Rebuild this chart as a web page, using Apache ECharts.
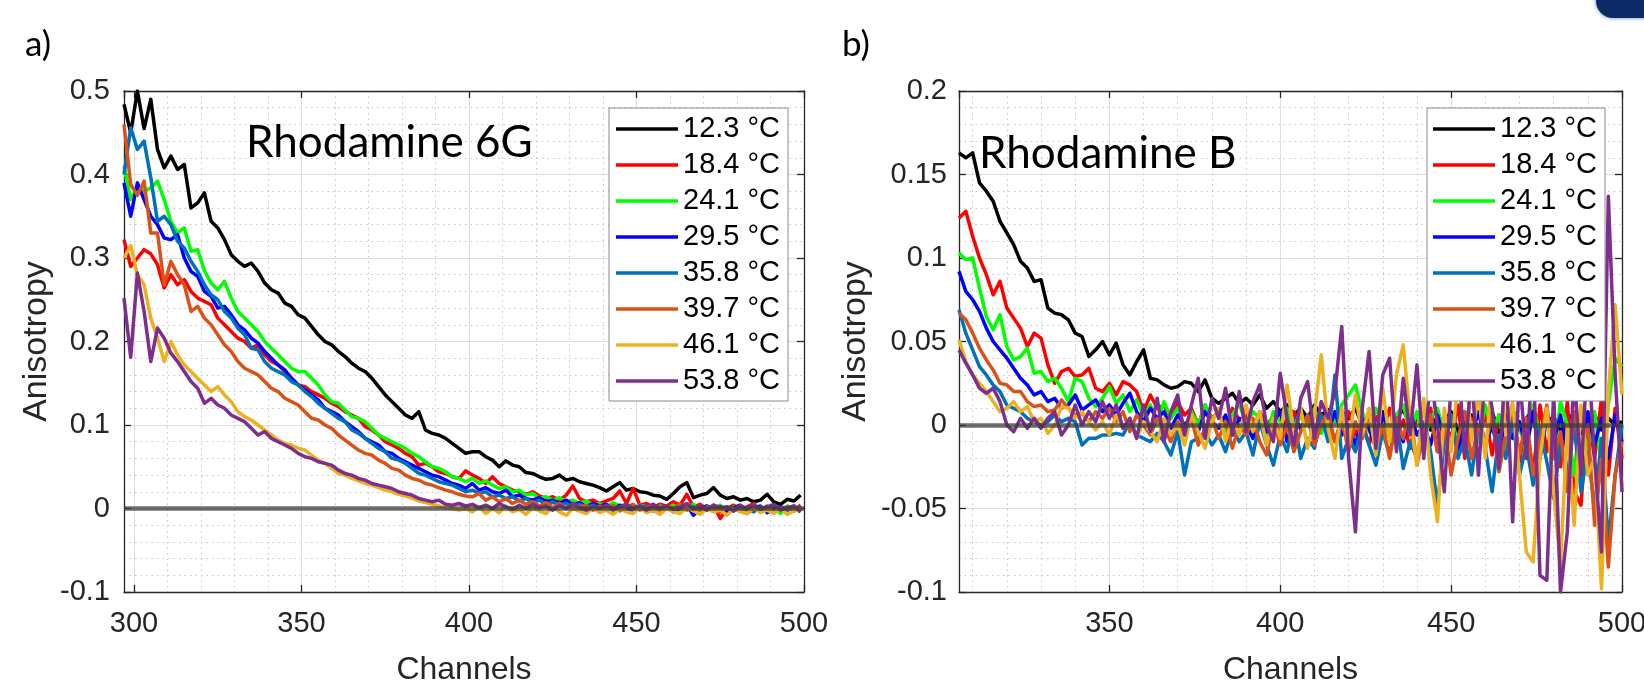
<!DOCTYPE html>
<html>
<head>
<meta charset="utf-8">
<script src="https://cdn.jsdelivr.net/npm/echarts@6/dist/echarts.min.js"></script>
<style>
html,body{margin:0;padding:0;background:#fff;}
#chart{width:1644px;height:690px;}
</style>
</head>
<body>
<div id="chart"></div>
<script>
// ---------- DATA ----------
const temps = ['12.3 \u00b0C','18.4 \u00b0C','24.1 \u00b0C','29.5 \u00b0C','35.8 \u00b0C','39.7 \u00b0C','46.1 \u00b0C','53.8 \u00b0C'];

// Panel a) Rhodamine 6G – channels
const chA = [297,299,301,303,305,307,309,311,313,315,317,319,321,323,325,327,329,331,333,335,337,339,341,343,345,347,349,351,353,355,357,359,361,363,365,367,369,371,373,375,377,379,381,383,385,387,389,391,393,395,397,399,401,403,405,407,409,411,413,415,417,419,421,423,425,427,429,431,433,435,437,439,441,443,445,447,449,451,453,455,457,459,461,463,465,467,469,471,473,475,477,479,481,483,485,487,489,491,493,495,497,499];

const a_12_3 = [0.484,0.45,0.50,0.455,0.49,0.43,0.408,0.422,0.406,0.412,
0.36,0.366,0.378,0.344,0.336,0.322,0.304,0.296,0.29,0.294,
0.284,0.27,0.262,0.258,0.246,0.242,0.232,0.228,0.218,0.208,
0.2,0.196,0.188,0.182,0.174,0.168,0.164,0.156,0.146,0.136,
0.128,0.12,0.112,0.108,0.116,0.094,0.09,0.088,0.084,0.078,
0.072,0.066,0.068,0.068,0.062,0.058,0.05,0.057,0.052,0.05,
0.043,0.042,0.038,0.035,0.036,0.04,0.034,0.036,0.032,0.03,
0.028,0.025,0.021,0.026,0.031,0.022,0.024,0.02,0.019,0.016,
0.015,0.011,0.018,0.026,0.031,0.013,0.016,0.018,0.025,0.016,
0.012,0.014,0.01,0.012,0.008,0.01,0.017,0.008,0.005,0.011,
0.009,0.016];
const a_18_4 = [0.322,0.29,0.30,0.31,0.305,0.292,0.264,0.28,0.268,0.274,
0.26,0.252,0.248,0.244,0.228,0.22,0.212,0.204,0.2,0.192,
0.196,0.184,0.176,0.172,0.164,0.156,0.148,0.146,0.14,0.136,
0.132,0.126,0.122,0.116,0.112,0.108,0.098,0.094,0.088,0.08,
0.076,0.072,0.066,0.062,0.052,0.054,0.05,0.044,0.042,0.038,
0.036,0.045,0.04,0.036,0.03,0.038,0.03,0.026,0.022,0.02,
0.017,0.02,0.015,0.012,0.014,0.01,0.016,0.027,0.012,0.008,
0.01,0.006,0.009,0.012,0.021,0.006,0.024,0.004,0.006,0.002,
0.005,0.003,0.008,0.004,0.017,0.002,0.005,-0.002,0.004,-0.012,
0.0,0.004,-0.003,0.002,0.006,-0.002,0.003,-0.004,0.002,0.0,
-0.003,0.004];
const a_24_1 = [0.41,0.37,0.385,0.38,0.384,0.392,0.37,0.344,0.33,0.336,
0.308,0.31,0.285,0.27,0.262,0.272,0.252,0.236,0.228,0.22,
0.212,0.2,0.192,0.184,0.176,0.168,0.164,0.164,0.156,0.148,
0.136,0.128,0.126,0.118,0.11,0.108,0.104,0.096,0.088,0.084,
0.08,0.076,0.072,0.066,0.062,0.056,0.05,0.048,0.044,0.038,
0.036,0.032,0.036,0.03,0.033,0.028,0.024,0.026,0.02,0.022,
0.016,0.018,0.012,0.014,0.01,0.013,0.008,0.01,0.006,0.009,
0.004,0.006,0.002,0.007,0.003,0.005,0.0,0.004,0.002,-0.002,
0.003,0.0,0.004,-0.003,0.002,0.005,-0.002,0.003,0.0,0.004,
-0.004,0.002,0.001,-0.002,0.004,0.0,-0.003,0.002,-0.006,0.003,
0.0,-0.004];
const a_29_5 = [0.39,0.35,0.39,0.37,0.35,0.34,0.324,0.322,0.328,0.3,
0.284,0.278,0.26,0.254,0.24,0.242,0.232,0.22,0.214,0.204,
0.198,0.188,0.18,0.172,0.166,0.156,0.148,0.142,0.136,0.13,
0.12,0.116,0.112,0.104,0.098,0.092,0.084,0.08,0.076,0.068,
0.066,0.06,0.056,0.052,0.048,0.044,0.04,0.038,0.034,0.03,
0.028,0.024,0.03,0.022,0.025,0.02,0.018,0.022,0.014,0.016,
0.012,0.01,0.013,0.008,0.01,0.006,0.01,0.004,0.007,0.002,
0.006,0.003,0.005,-0.002,0.004,0.001,-0.004,0.003,0.0,0.005,
-0.002,0.002,-0.004,0.001,0.004,-0.008,0.0,0.003,-0.002,0.002,
-0.004,0.001,0.004,-0.003,0.0,0.003,-0.005,0.0,0.002,-0.002,
0.003,-0.003];
const a_35_8 = [0.40,0.456,0.43,0.44,0.396,0.344,0.35,0.34,0.32,0.312,
0.296,0.284,0.268,0.256,0.25,0.236,0.228,0.216,0.208,0.192,
0.19,0.176,0.168,0.164,0.16,0.152,0.148,0.14,0.134,0.126,
0.12,0.114,0.108,0.104,0.094,0.09,0.084,0.078,0.072,0.068,
0.06,0.058,0.054,0.048,0.042,0.04,0.036,0.032,0.03,0.028,
0.024,0.02,0.022,0.018,0.02,0.014,0.016,0.012,0.014,0.009,
0.012,0.007,0.01,0.005,0.008,0.004,0.006,0.002,0.005,0.001,
0.004,0.0,0.003,-0.001,0.002,0.004,-0.002,0.001,0.003,-0.003,
0.0,0.002,-0.002,0.003,-0.001,0.002,-0.004,0.0,0.003,-0.002,
0.001,-0.003,0.002,0.0,-0.004,0.002,0.0,-0.003,0.001,-0.002,
0.002,0.0];
const a_39_7 = [0.46,0.388,0.375,0.392,0.33,0.33,0.268,0.296,0.28,0.268,
0.236,0.242,0.228,0.22,0.208,0.196,0.188,0.176,0.168,0.164,
0.16,0.152,0.144,0.14,0.132,0.128,0.124,0.116,0.108,0.106,
0.1,0.096,0.088,0.082,0.076,0.07,0.066,0.064,0.058,0.054,
0.048,0.046,0.04,0.036,0.034,0.03,0.028,0.025,0.022,0.02,
0.017,0.015,0.014,0.018,0.01,0.014,0.008,0.012,0.006,0.01,
0.005,0.008,0.003,0.007,0.002,0.006,0.0,0.005,0.002,0.004,
-0.002,0.003,0.0,0.004,-0.003,0.002,0.005,-0.002,0.001,0.004,
-0.003,0.002,0.0,0.005,-0.002,0.001,-0.004,0.002,0.0,-0.005,
0.002,-0.002,0.003,-0.006,0.0,-0.003,0.002,-0.004,0.0,0.002,
-0.003,0.001];
const a_46_1 = [0.30,0.315,0.28,0.268,0.228,0.204,0.176,0.2,0.184,0.172,
0.164,0.156,0.148,0.14,0.146,0.136,0.128,0.116,0.11,0.106,
0.1,0.094,0.088,0.082,0.078,0.076,0.072,0.07,0.064,0.058,
0.054,0.048,0.042,0.04,0.036,0.033,0.03,0.028,0.025,0.022,
0.02,0.017,0.015,0.012,0.009,0.007,0.005,0.003,0.001,0.0,
-0.002,0.0,-0.004,0.002,-0.006,0.0,-0.005,0.003,-0.004,-0.001,
-0.007,0.001,-0.003,-0.006,0.002,-0.004,-0.008,0.0,-0.003,-0.006,
0.001,-0.005,-0.002,-0.007,0.0,-0.004,-0.006,0.002,-0.005,-0.002,
-0.007,0.0,-0.004,-0.006,0.001,-0.003,-0.007,0.0,-0.004,-0.002,
-0.008,0.0,-0.004,-0.006,0.001,-0.005,-0.002,-0.006,0.0,-0.007,
-0.003,-0.001];
const a_53_8 = [0.252,0.181,0.282,0.236,0.176,0.216,0.204,0.186,0.176,0.164,
0.152,0.144,0.126,0.132,0.124,0.12,0.112,0.108,0.104,0.096,
0.088,0.092,0.084,0.08,0.076,0.072,0.066,0.062,0.06,0.056,
0.054,0.052,0.046,0.042,0.04,0.036,0.034,0.03,0.028,0.026,
0.024,0.02,0.018,0.016,0.012,0.01,0.008,0.01,0.005,0.004,
0.006,0.003,0.005,0.001,0.004,0.0,0.006,0.002,-0.001,0.004,
0.0,0.005,0.001,0.003,-0.002,0.004,0.0,0.006,0.001,-0.002,
0.003,0.0,0.004,-0.001,0.002,0.005,0.0,0.003,-0.002,0.004,
0.001,0.003,-0.001,0.002,0.006,0.0,0.003,-0.002,0.004,0.001,
0.002,-0.003,0.003,0.0,0.004,-0.001,0.002,0.005,-0.002,0.001,
0.003,-0.004];

// Panel b) Rhodamine B – channels
const chB = [306,308,310,312,314,316,318,320,322,324,326,328,330,332,334,336,338,340,342,344,346,348,350,352,354,356,358,360,362,364,366,368,370,372,374,376,378,380,382,384,386,388,390,392,394,396,398,400,402,404,406,408,410,412,414,416,418,420,422,424,426,428,430,432,434,436,438,440,442,444,446,448,450,452,454,456,458,460,462,464,466,468,470,472,474,476,478,480,482,484,486,488,490,492,494,496,498,500];

const b_12_3 = [0.163,0.16,0.163,0.145,0.14,0.134,0.122,0.115,0.108,0.098,
0.094,0.086,0.087,0.07,0.067,0.066,0.063,0.055,0.053,0.041,
0.045,0.05,0.042,0.049,0.036,0.03,0.038,0.045,0.028,0.027,
0.024,0.022,0.023,0.026,0.025,0.02,0.027,0.016,0.013,0.016,
0.019,0.013,0.016,0.012,0.018,0.01,0.014,0.008,0.012,0.006,
0.01,0.004,0.012,0.006,0.009,0.002,0.008,0.004,0.01,0.0,
0.006,0.003,0.008,-0.002,0.005,0.009,0.0,0.004,0.007,-0.003,
0.005,0.002,0.008,-0.004,0.003,0.006,-0.002,0.004,0.008,-0.005,
0.002,0.006,-0.003,0.004,0.009,-0.006,0.002,0.005,-0.004,0.003,
0.007,-0.005,0.002,0.006,-0.003,0.004,0.0,0.002];
const b_18_4 = [0.124,0.128,0.113,0.1,0.09,0.078,0.086,0.07,0.064,0.058,
0.047,0.055,0.052,0.036,0.025,0.032,0.034,0.029,0.03,0.034,
0.022,0.02,0.025,0.018,0.026,0.024,0.02,0.008,0.018,0.01,
0.012,0.004,0.014,0.006,0.01,0.0,0.012,0.004,0.008,-0.002,
0.01,0.003,0.006,-0.004,0.008,0.0,0.005,-0.006,0.004,0.008,
-0.003,0.002,-0.008,0.006,0.0,-0.01,0.004,0.008,-0.006,0.002,
-0.012,0.005,-0.004,0.01,-0.008,0.003,-0.014,0.006,-0.004,0.01,
-0.016,0.002,-0.008,0.012,-0.02,0.004,-0.01,0.008,-0.018,0.006,
-0.012,0.01,-0.022,0.004,-0.03,0.012,-0.016,0.006,-0.025,0.014,
-0.04,-0.048,0.008,-0.02,0.016,-0.03,0.01,-0.02];
const b_24_1 = [0.103,0.099,0.1,0.082,0.065,0.057,0.066,0.047,0.039,0.041,
0.046,0.031,0.032,0.026,0.028,0.022,0.014,0.028,0.026,0.016,
0.011,0.016,0.023,0.013,0.018,0.008,0.015,0.005,0.012,0.002,
0.014,0.004,0.01,-0.002,0.008,0.0,0.012,0.003,0.008,-0.004,
0.006,0.013,0.0,0.008,0.004,-0.006,0.008,0.002,0.01,-0.004,
0.006,0.0,0.01,-0.005,0.006,0.002,0.012,0.018,0.024,0.008,
-0.004,0.01,0.0,-0.008,0.006,0.012,-0.004,0.008,-0.01,0.004,
0.01,-0.006,0.006,-0.012,0.008,0.0,-0.01,0.012,-0.004,0.006,
-0.014,0.01,0.0,-0.018,0.012,-0.006,0.008,-0.02,0.014,0.0,
-0.03,0.01,-0.016,0.008,-0.024,0.012,0.04,0.035];
const b_29_5 = [0.092,0.08,0.075,0.068,0.058,0.05,0.045,0.04,0.034,0.028,
0.024,0.018,0.02,0.014,0.016,0.01,0.012,0.018,0.009,0.012,
0.015,0.008,0.012,0.006,0.013,0.019,0.008,0.002,0.01,0.004,
0.008,-0.002,0.006,0.0,0.005,-0.004,0.008,0.002,-0.002,0.006,
-0.006,0.004,0.0,-0.008,0.006,-0.004,0.002,0.008,-0.01,0.004,
-0.002,0.006,-0.008,0.002,-0.004,0.008,-0.006,0.0,-0.012,0.004,
-0.002,-0.014,0.006,-0.004,0.002,-0.01,0.008,-0.006,0.0,-0.012,
0.006,-0.008,0.002,-0.016,0.004,-0.006,0.008,-0.012,0.0,-0.018,
0.006,-0.008,0.002,-0.014,0.008,-0.02,0.004,-0.01,0.006,-0.016,
0.0,-0.024,0.008,-0.012,0.004,-0.02,0.006,-0.01];
const b_35_8 = [0.069,0.055,0.045,0.035,0.03,0.024,0.02,0.012,0.01,0.008,
0.004,0.002,0.0,0.002,0.006,0.002,0.004,0.002,-0.012,-0.008,
-0.008,-0.006,-0.006,-0.005,-0.006,0.002,-0.006,-0.008,-0.01,-0.005,
-0.01,-0.018,-0.004,-0.03,-0.01,-0.008,-0.004,-0.012,-0.006,-0.016,
-0.002,-0.01,-0.004,-0.018,0.002,-0.012,-0.024,-0.006,-0.016,0.004,
-0.02,-0.008,-0.014,0.006,-0.01,0.03,-0.02,-0.008,-0.016,0.0,
-0.012,-0.024,-0.004,-0.018,0.004,-0.026,-0.01,-0.02,0.002,-0.016,
-0.048,-0.01,0.006,-0.02,-0.008,-0.03,0.0,-0.014,-0.04,-0.006,
-0.02,0.004,-0.03,-0.012,-0.036,-0.002,-0.022,-0.044,-0.01,-0.03,
0.0,-0.04,-0.016,-0.05,-0.008,-0.07,-0.03,0.0];
const b_39_7 = [0.067,0.063,0.055,0.046,0.039,0.033,0.025,0.024,0.02,0.02,
0.014,0.011,0.012,0.008,0.009,0.015,0.01,0.006,0.007,0.002,
0.008,0.004,0.01,0.002,0.008,-0.004,0.006,0.0,-0.006,0.004,
-0.002,-0.01,0.002,-0.006,0.004,-0.012,-0.002,0.004,-0.008,0.002,
-0.014,0.0,-0.006,0.004,-0.01,-0.018,0.002,-0.012,0.0,-0.016,
-0.004,0.006,-0.012,0.0,0.008,-0.01,0.004,-0.016,0.002,-0.008,
0.006,-0.014,0.0,-0.02,0.004,-0.008,0.01,-0.024,-0.004,0.006,
-0.016,0.002,-0.03,-0.008,0.008,-0.02,0.0,-0.012,0.006,-0.028,
-0.006,0.01,-0.018,0.004,-0.03,-0.01,0.012,-0.02,-0.004,-0.04,
0.008,-0.016,0.0,-0.06,-0.02,-0.085,-0.03,-0.01];
const b_46_1 = [0.051,0.038,0.03,0.025,0.02,0.014,0.008,0.01,0.014,0.008,
0.011,0.002,0.004,-0.005,0.0,0.011,0.01,0.004,0.008,0.002,
-0.003,0.002,-0.006,0.006,-0.002,0.004,-0.008,0.002,-0.004,-0.01,
0.004,-0.006,0.0,-0.012,0.006,-0.004,-0.014,0.002,0.01,-0.01,
0.004,-0.006,0.012,-0.004,0.008,-0.012,0.004,-0.008,0.024,-0.004,
0.01,-0.014,0.006,0.042,-0.002,-0.02,0.01,-0.012,0.018,-0.006,
0.01,-0.018,0.022,-0.01,0.03,0.048,0.004,-0.024,0.016,-0.03,
-0.058,0.01,-0.016,0.026,0.038,-0.01,0.02,-0.02,0.03,0.052,
-0.006,0.014,-0.03,-0.076,-0.082,-0.02,0.01,-0.04,-0.084,0.0,
-0.06,0.012,-0.03,-0.02,-0.098,0.02,0.072,0.018];
const b_53_8 = [0.045,0.037,0.03,0.022,0.019,0.022,0.014,0.0,-0.004,0.004,
-0.002,0.004,-0.002,0.004,0.008,-0.006,0.0,0.012,0.0,0.008,
0.002,0.014,0.004,0.012,-0.002,0.004,-0.008,0.012,-0.004,0.016,
-0.01,0.008,0.018,-0.006,0.012,0.028,-0.008,0.016,0.004,0.022,
-0.006,0.02,-0.004,0.014,0.024,0.0,-0.01,0.031,0.004,-0.012,
0.016,0.026,-0.008,0.014,0.004,0.02,0.059,-0.02,-0.064,0.01,
0.044,-0.014,0.03,0.04,-0.016,0.028,-0.006,0.036,-0.02,0.03,
0.0,-0.04,0.024,0.04,-0.018,0.03,-0.03,0.034,0.01,-0.026,
0.038,-0.058,0.03,-0.02,0.044,-0.09,-0.093,0.02,-0.1,-0.064,
0.032,-0.03,0.046,-0.02,-0.076,0.137,0.03,-0.04];

const zeroLevel = [0];

// ---------- STYLE ----------
const colors = ['#000000','#ff0000','#00ff00','#0000ff','#0072bd','#d95319','#edb120','#7e2f8e'];
const FONT = 'Liberation Sans, Arial, sans-serif';
const TXT = '#262626';

const seriesA = [a_12_3,a_18_4,a_24_1,a_29_5,a_35_8,a_39_7,a_46_1,a_53_8];
const seriesB = [b_12_3,b_18_4,b_24_1,b_29_5,b_35_8,b_39_7,b_46_1,b_53_8];

function pairs(xs, ys){ return xs.map((x,i)=>[x, ys[i]]); }

const chart = echarts.init(document.getElementById('chart'), null, {renderer:'canvas'});

function xAx(grid, min, max, pos){
  const main = pos === 'bottom';
  return {
    type:'value', gridIndex:grid, min:min, max:max, minInterval:50, maxInterval:50, position:pos,
    axisLine:{show:true, onZero:false, lineStyle:{color:TXT, width:1.3}},
    axisTick:{show:true, inside:true, length:7, lineStyle:{color:TXT, width:1.3}},
    axisLabel:{show:main, showMinLabel:false, color:TXT, fontSize:29, fontFamily:FONT, margin:17},
    splitLine:{show:main, lineStyle:{color:'#dedede', width:1}},
    minorTick:{show:false, splitNumber:5},
    minorSplitLine:{show:main, lineStyle:{color:'#c4c4c4', width:1, type:[1.5,4]}},
    name: main ? 'Channels' : '', nameLocation:'middle', nameGap:62,
    nameTextStyle:{color:TXT, fontSize:32, fontFamily:FONT}
  };
}
function yAx(grid, min, max, itv, pos, gap, lm){
  const main = pos === 'left';
  return {
    type:'value', gridIndex:grid, min:min, max:max, interval:itv, position:pos,
    axisLine:{show:true, onZero:false, lineStyle:{color:TXT, width:1.3}},
    axisTick:{show:true, inside:true, length:7, lineStyle:{color:TXT, width:1.3}},
    axisLabel:{show:main, color:TXT, fontSize:29, fontFamily:FONT, margin:lm},
    splitLine:{show:main, lineStyle:{color:'#dedede', width:1}},
    minorTick:{show:false, splitNumber:5},
    minorSplitLine:{show:main, lineStyle:{color:'#c4c4c4', width:1, type:[1.5,4]}},
    name: main ? 'Anisotropy' : '', nameLocation:'middle', nameGap:gap,
    nameTextStyle:{color:TXT, fontSize:34, fontFamily:FONT}
  };
}

const series = [];
seriesA.forEach((d,k)=>{
  series.push({type:'line', name:temps[k], xAxisIndex:0, yAxisIndex:0, data:pairs(chA,d),
    showSymbol:false, symbol:'none', color:colors[k], lineStyle:{width:3.5, color:colors[k], join:'round'}, clip:true, z:2});
});
seriesB.forEach((d,k)=>{
  series.push({type:'line', name:temps[k], xAxisIndex:2, yAxisIndex:2, data:pairs(chB,d),
    showSymbol:false, symbol:'none', color:colors[k], lineStyle:{width:3.5, color:colors[k], join:'round'}, clip:true, z:2});
});
[[0,0],[2,2]].forEach(([xi,yi])=>{
  series.push({type:'line', name:'zero', xAxisIndex:xi, yAxisIndex:yi, data:[], z:3, silent:true,
    markLine:{silent:true, symbol:'none', animation:false, label:{show:false},
      lineStyle:{color:'#3c3c3c', width:4.5, type:'solid', opacity:0.75},
      data: zeroLevel.map(v=>({yAxis:v}))}});
});

function legend(left, padL){
  return {
    show:true, data:temps, orient:'vertical', left:left, top:108,
    icon:'rect', itemWidth:62, itemHeight:3.5, itemGap:6,
    padding:[6,8,5,padL], backgroundColor:'#ffffff', borderColor:'#8a8a8a', borderWidth:1,
    textStyle:{color:'#000', fontSize:29, fontFamily:FONT, lineHeight:30},
    selectedMode:false, z:10
  };
}

const option = {
  animation:false,
  backgroundColor:'#ffffff',
  grid:[
    {left:124, top:91, width:680, height:501, show:false, containLabel:false, outerBoundsMode:'none'},
    {left:959, top:91, width:663, height:501, show:false, containLabel:false, outerBoundsMode:'none'}
  ],
  xAxis:[ xAx(0,297,500,'bottom'), xAx(0,297,500,'top'), xAx(1,306,500,'bottom'), xAx(1,306,500,'top') ],
  yAxis:[ yAx(0,-0.1,0.5,0.1,'left',70,14), yAx(0,-0.1,0.5,0.1,'right',70,14),
          yAx(1,-0.1,0.2,0.05,'left',86,12), yAx(1,-0.1,0.2,0.05,'right',86,12) ],
  legend:[ legend(609,7), legend(1427,6) ],
  series: series,
  graphic:[
    {type:'text', x:25, y:45, style:{text:'a)', font:'35px Lato, sans-serif', fill:'#000', verticalAlign:'middle'}},
    {type:'text', x:842, y:45, style:{text:'b)', font:'35px Lato, sans-serif', fill:'#000', verticalAlign:'middle'}},
    {type:'text', x:246, y:143, z:20, style:{text:'Rhodamine 6G', font:'44px Lato, sans-serif', fill:'#000', verticalAlign:'middle'}},
    {type:'text', x:979, y:154, z:20, style:{text:'Rhodamine B', font:'44px Lato, sans-serif', fill:'#000', verticalAlign:'middle'}},
    {type:'rect', shape:{x:1596, y:-25, width:80, height:43, r:17}, style:{fill:'#0b2a66', shadowBlur:4, shadowColor:'rgba(11,42,102,0.6)'}}
  ]
};
chart.setOption(option);
</script>
</body>
</html>
